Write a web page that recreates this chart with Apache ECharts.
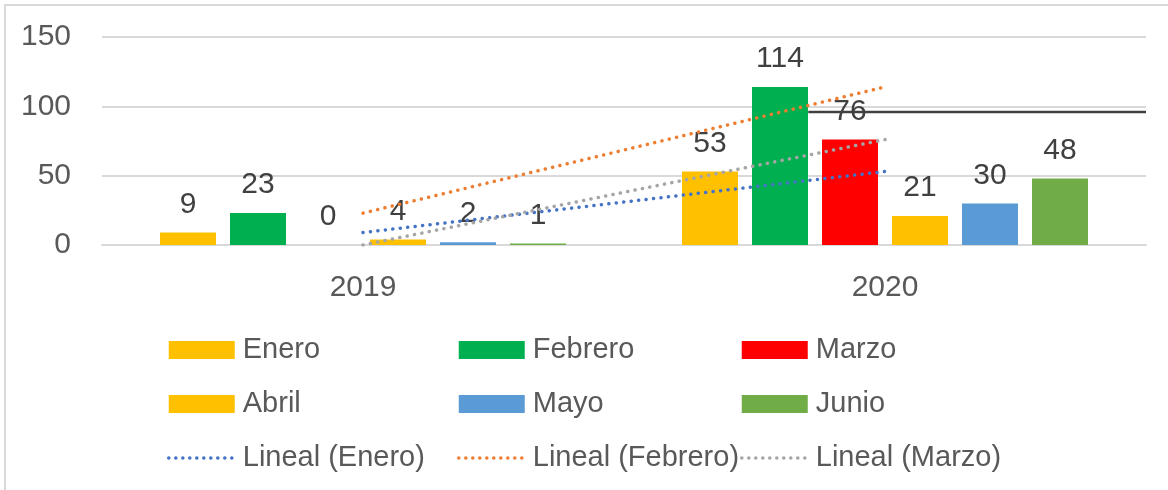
<!DOCTYPE html>
<html>
<head>
<meta charset="utf-8">
<script src="https://cdn.jsdelivr.net/npm/echarts@6/dist/echarts.min.js"></script>
<style>
  html, body { margin: 0; padding: 0; background: #fff; }
  #chart { width: 1168px; height: 490px; }
</style>
</head>
<body>
<div id="chart"></div>
<script>
// datos
const anios = ["2019", "2020"];
const enero = [9, 53];
const febrero = [23, 114];
const marzo = [0, 76];
const abril = [4, 21];
const mayo = [2, 30];
const junio = [1, 48];
const ticksY = [0, 50, 100, 150];
// linea negra suelta (posicion en unidades de categoria, valor)
const lineaNegra = [[1.353, 96], [2, 96]];

const font = "'Liberation Sans', Arial, sans-serif";
const grisTexto = "#595959";

const barras = [
  { name: "Enero", data: enero, color: "#FFC000" },
  { name: "Febrero", data: febrero, color: "#00B050" },
  { name: "Marzo", data: marzo, color: "#FF0000" },
  { name: "Abril", data: abril, color: "#FFC000" },
  { name: "Mayo", data: mayo, color: "#5B9BD5" },
  { name: "Junio", data: junio, color: "#70AD47" },
];
const tendencias = [
  { name: "Lineal (Enero)", data: enero, color: "#4472C4" },
  { name: "Lineal (Febrero)", data: febrero, color: "#ED7D31" },
  { name: "Lineal (Marzo)", data: marzo, color: "#A5A5A5" },
];

const chart = echarts.init(document.getElementById("chart"));

let series = [];
for (let b of barras) {
  series.push({
    name: b.name,
    type: "bar",
    data: b.data,
    barWidth: 56,
    barGap: "25%",
    itemStyle: { color: b.color },
    label: {
      show: true,
      position: "top",
      distance: 13,
      color: "#404040",
      fontSize: 30,
      fontFamily: font,
    },
  });
}
for (let t of tendencias) {
  series.push({
    name: t.name,
    type: "line",
    data: t.data,
    symbol: "none",
    z: 5,
    lineStyle: { color: t.color, width: 3.5, type: [0.1, 7.4], cap: "round" },
    itemStyle: { color: t.color },
  });
}
series.push({
  name: "negra",
  type: "line",
  xAxisIndex: 1,
  data: lineaNegra,
  symbol: "none",
  z: 6,
  lineStyle: { color: "#404040", width: 2.5 },
  silent: true,
});

function leyenda(x, nombres) {
  return {
    orient: "vertical",
    left: x,
    top: 333,
    padding: 0,
    itemWidth: 66,
    itemHeight: 18,
    itemGap: 20,
    data: nombres.map((n) =>
      n.startsWith("Lineal")
        ? { name: n, itemStyle: { opacity: 0 } }
        : { name: n, icon: "rect" }
    ),
    textStyle: {
      fontSize: 29,
      lineHeight: 34,
      color: grisTexto,
      fontFamily: font,
      padding: [0, 0, 0, 3],
    },
    lineStyle: { type: [0.1, 6.9], cap: "round", width: 3.5 },
  };
}

const option = {
  animation: false,
  textStyle: { fontFamily: font },
  graphic: [
    {
      type: "rect",
      shape: { x: 5, y: 5, width: 1200, height: 520 },
      style: { fill: "none", stroke: "#d9d9d9", lineWidth: 2 },
      silent: true,
      z: -10,
    },
  ],
  legend: [
    leyenda(167, ["Enero", "Abril", "Lineal (Enero)"]),
    leyenda(457, ["Febrero", "Mayo", "Lineal (Febrero)"]),
    leyenda(740, ["Marzo", "Junio", "Lineal (Marzo)"]),
  ],
  grid: { left: 102, right: 22, top: 37, bottom: 245 },
  xAxis: [
    {
      type: "category",
      data: anios,
      axisTick: { show: false },
      axisLine: { lineStyle: { color: "#d9d9d9", width: 2 } },
      axisLabel: { color: grisTexto, fontSize: 30, margin: 28, fontFamily: font },
    },
    {
      type: "value",
      min: 0,
      max: anios.length,
      show: false,
    },
  ],
  yAxis: {
    type: "value",
    min: ticksY[0],
    max: ticksY[ticksY.length - 1],
    interval: 50,
    axisLine: { show: false },
    axisTick: { show: false },
    axisLabel: { color: grisTexto, fontSize: 30, margin: 31, fontFamily: font },
    splitLine: { lineStyle: { color: "#d9d9d9", width: 2 } },
  },
  series: series,
};
chart.setOption(option);
</script>
</body>
</html>
